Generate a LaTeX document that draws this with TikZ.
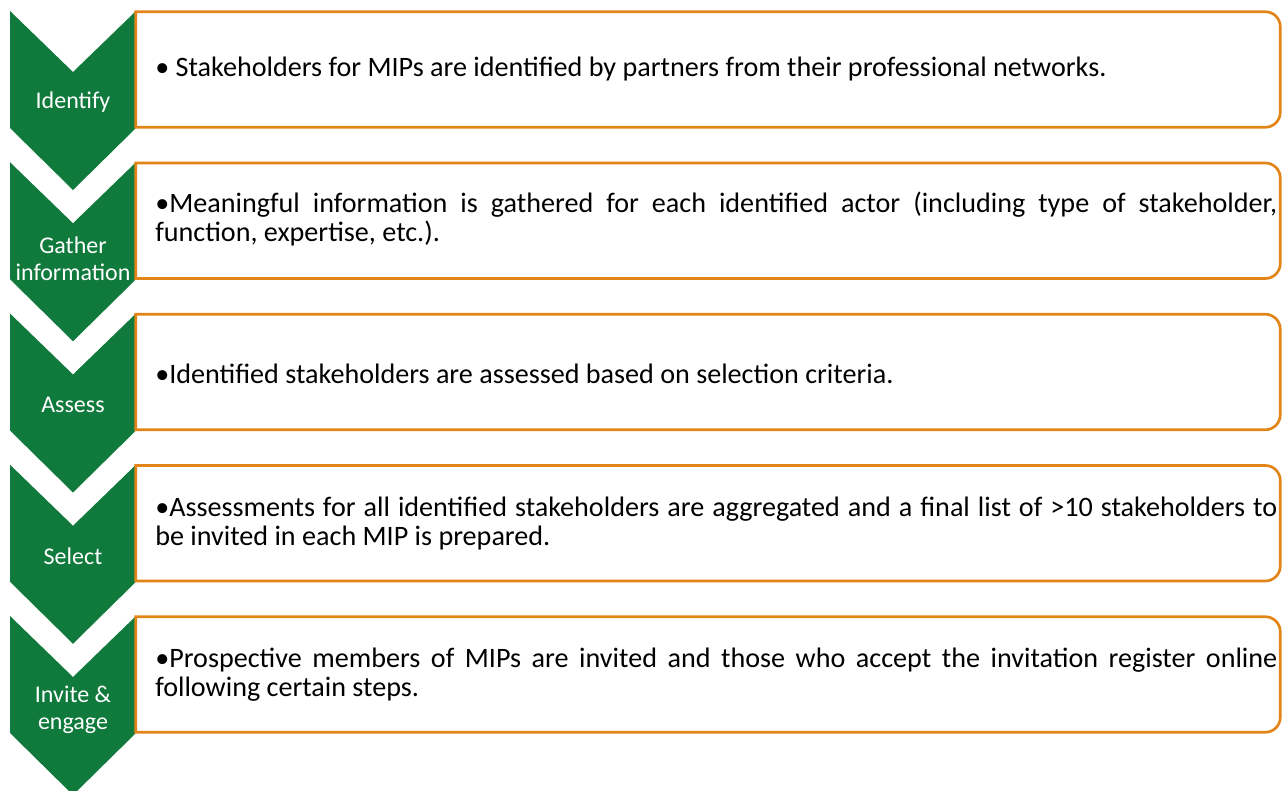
\documentclass[tikz,border=0pt]{standalone}
\usepackage{fontspec}
\setmainfont{Carlito}

\definecolor{stepgreen}{RGB}{16,122,60}
\definecolor{boxorange}{RGB}{226,132,22}

\newlength\bulletwd
\newcommand\bulleted{\settowidth\bulletwd{•}\hangindent=\bulletwd\hangafter=1 •}

\begin{document}
\begin{tikzpicture}[
  x=0.75pt,
  y=0.75pt,
  font=\fontsize{21.1pt}{21.9pt}\selectfont,
  chevron/.style={fill=stepgreen},
  steplab/.style={text=white, align=center, inner sep=0pt,
    font=\fontsize{18pt}{20pt}\selectfont},
  stepbox/.style={minimum width=858pt, minimum height=86.25pt, inner sep=0pt},
  border/.style={draw=boxorange, line width=2pt},
  desc/.style={anchor=west, text width=841.5pt, align=justify, inner sep=0pt}
]
  \useasboundingbox (0,0) rectangle (1282,-791);

  % Green chevrons down the left side, one per step.
  \fill[chevron] (10,-11)     -- (73,-72)     -- (136,-11)     -- (136,-128)
    -- (73,-190)    -- (10,-128)    -- cycle;
  \fill[chevron] (10,-162.25) -- (73,-223.25) -- (136,-162.25) -- (136,-279.25)
    -- (73,-341.25) -- (10,-279.25) -- cycle;
  \fill[chevron] (10,-313.5)  -- (73,-374.5)  -- (136,-313.5)  -- (136,-430.5)
    -- (73,-492.5)  -- (10,-430.5)  -- cycle;
  \fill[chevron] (10,-464.75) -- (73,-525.75) -- (136,-464.75) -- (136,-581.75)
    -- (73,-643.75) -- (10,-581.75) -- cycle;
  \fill[chevron] (10,-616)    -- (73,-677)    -- (136,-616)    -- (136,-733)
    -- (73,-795)    -- (10,-733)    -- cycle;

  \node[steplab] at (73,-102.5)  (identify) {Identify};
  \node[steplab] at (73,-259)    (gather)   {Gather\\information};
  \node[steplab] at (73,-405)    (assess)   {Assess};
  \node[steplab] at (73,-556)    (select)   {Select};
  \node[steplab] at (73,-709.5)  (invite)   {Invite \&\\engage};

  % Description boxes, square on the left and rounded on the right.
  \node[stepbox] at (708,-69.5)   (identifybox) {};
  \node[stepbox] at (708,-220.75) (gatherbox)   {};
  \node[stepbox] at (708,-372)    (assessbox)   {};
  \node[stepbox] at (708,-523.25) (selectbox)   {};
  \node[stepbox] at (708,-674.5)  (invitebox)   {};

  \foreach \b in {identifybox, gatherbox, assessbox, selectbox, invitebox}
    \draw[border] (\b.south west) -- (\b.north west)
      -- ([xshift=-11.25pt]\b.north east) arc[start angle=90, end angle=0, radius=11.25pt]
      -- ([yshift=11.25pt]\b.south east) arc[start angle=0, end angle=-90, radius=11.25pt]
      -- cycle;

  \node[desc] at (155,-69.5) (identifytext)
    {• Stakeholders for MIPs are identified by partners from their professional networks.};
  \node[desc] at (155,-219) (gathertext)
    {\bulleted Meaningful information is gathered for each identified actor (including type of stakeholder,\linebreak
     function, expertise, etc.).};
  \node[desc] at (155,-373.5) (assesstext)
    {\bulleted Identified stakeholders are assessed based on selection criteria.};
  \node[desc] at (155,-523.25) (selecttext)
    {\bulleted Assessments for all identified stakeholders are aggregated and a final list of >10 stakeholders to\linebreak
     be invited in each MIP is prepared.};
  \node[desc] at (155,-674.5) (invitetext)
    {\bulleted Prospective members of MIPs are invited and those who accept the invitation register online\linebreak
     following certain steps.};

\end{tikzpicture}
\end{document}
